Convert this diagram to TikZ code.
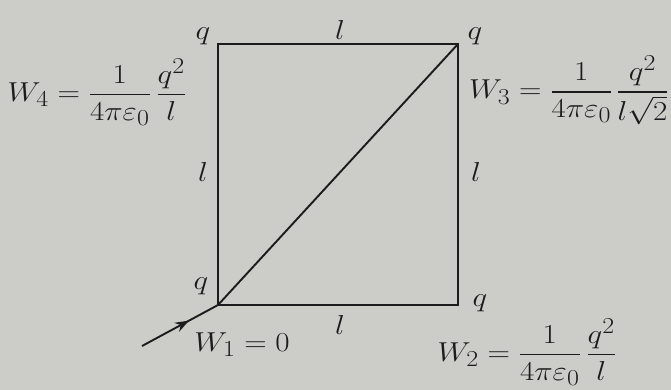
\documentclass[tikz,border=0pt]{standalone}
\usepackage{amsmath}
\usetikzlibrary{decorations.markings,arrows.meta}
\definecolor{paper}{RGB}{204,205,200}
\definecolor{ink}{RGB}{28,28,30}
\newcommand{\sz}[1]{\scalebox{1.25}[1.1]{#1}}
\begin{document}
\begin{tikzpicture}[x=1pt,y=-1pt,
  lbl/.style={inner sep=0pt,text=ink,font=\fontsize{24.88}{30}\selectfont},
  edge/.style={draw=ink,line width=1.9pt},
  flow/.style={draw=ink,line width=1.9pt,postaction={decorate},
    decoration={markings,mark=at position 0.62 with {\arrow{Stealth[length=14pt,width=10pt]}}}}]
\fill[paper] (0,0) rectangle (671,390);
\useasboundingbox (0,0) rectangle (671,390);
\coordinate (A) at (218,305);
\coordinate (B) at (458,305);
\coordinate (C) at (458,44);
\coordinate (D) at (218,44);
\coordinate (S) at (142,346);
\draw[edge] (A) -- (B) -- (C) -- (D) -- cycle;
\draw[edge] (A) -- (C);
\draw[flow] (S) -- (A);
\node[lbl] (qD) at (203,36) {\sz{$q$}};
\node[lbl] (qC) at (475,36) {\sz{$q$}};
\node[lbl] (qA) at (201,286) {\sz{$q$}};
\node[lbl] (qB) at (480,303) {\sz{$q$}};
\node[lbl] (lT) at (340,30) {\sz{$l$}};
\node[lbl] (lL) at (203,172) {\sz{$l$}};
\node[lbl] (lR) at (476,172) {\sz{$l$}};
\node[lbl] (lB) at (340,325) {\sz{$l$}};
\node[lbl] (W1) at (242,345) {\sz{$W_1=0$}};
\node[lbl] (W4) at (97,92) {\sz{$W_4=\dfrac{1}{4\pi\varepsilon_0}\,\dfrac{q^2}{l}$}};
\node[lbl,anchor=west] (W3) at (469,90) {\sz{$W_3=\dfrac{1}{4\pi\varepsilon_0}\mspace{2mu}\dfrac{q^2}{l\sqrt{2}}$}};
\node[lbl] (W2) at (527,352) {\sz{$W_2=\dfrac{1}{4\pi\varepsilon_0}\,\dfrac{q^2}{l}$}};
\end{tikzpicture}
\end{document}
